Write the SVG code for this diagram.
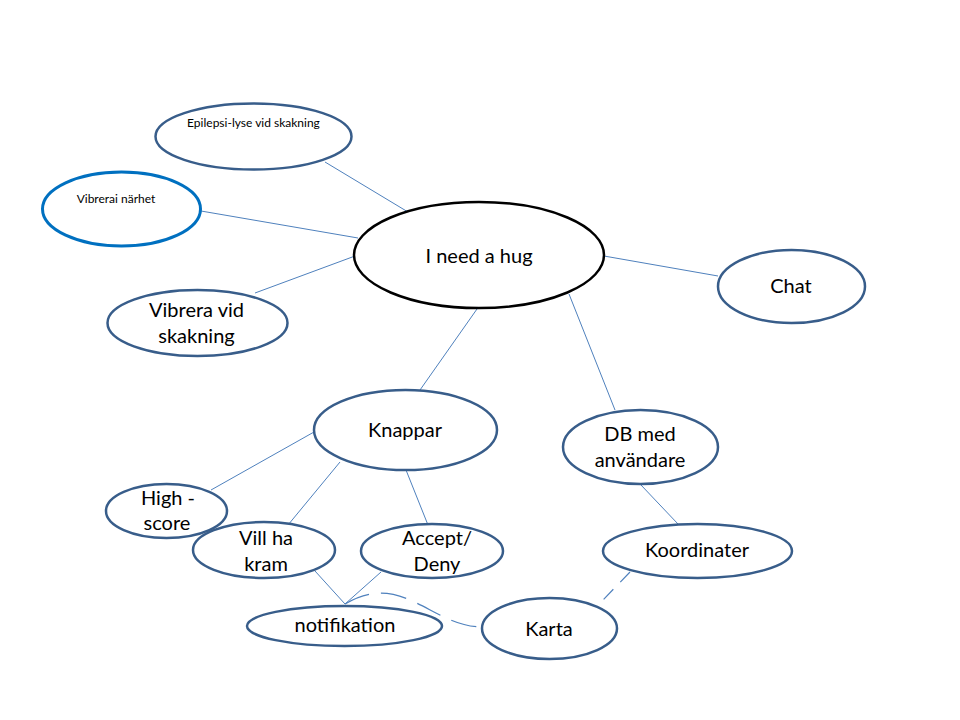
<svg xmlns="http://www.w3.org/2000/svg" width="960" height="720" viewBox="0 0 960 720">
<style>
  .node { fill: #ffffff; stroke: #385D8A; stroke-width: 2.5; }
  .hub { fill: #ffffff; stroke: #000000; stroke-width: 2.5; }
  .blue { fill: #ffffff; stroke: #0070C0; stroke-width: 3; }
  .t { font-family: Lato, "Open Sans", "Liberation Sans", sans-serif; font-size: 20px; fill: #000000; text-anchor: middle; }
  .s { font-family: Lato, "Open Sans", "Liberation Sans", sans-serif; font-size: 12px; fill: #000000; text-anchor: middle; }
  .c { fill: none; stroke: #4F81BD; stroke-width: 1; }
  .d { fill: none; stroke: #4F81BD; stroke-width: 1.2; stroke-dasharray: 26 12; }
  .d2 { fill: none; stroke: #4F81BD; stroke-width: 1.2; stroke-dasharray: 14 10; }
</style>
<rect width="960" height="720" fill="#ffffff"/>
<g id="connectors">
  <line class="c" x1="325" y1="162" x2="413" y2="215"/>
  <line class="c" x1="201" y1="211" x2="358" y2="238"/>
  <line class="c" x1="255" y1="293" x2="355" y2="256"/>
  <line class="c" x1="604" y1="256" x2="718" y2="276"/>
  <line class="c" x1="477" y1="309" x2="420" y2="390"/>
  <line class="c" x1="569" y1="294" x2="615" y2="410"/>
  <line class="c" x1="314" y1="432" x2="211" y2="490"/>
  <line class="c" x1="340" y1="462" x2="288" y2="525"/>
  <line class="c" x1="406" y1="470" x2="428" y2="525"/>
  <line class="c" x1="641" y1="485" x2="678" y2="524"/>
  <line class="c" x1="315" y1="571" x2="345" y2="604"/>
  <line class="c" x1="381" y1="572" x2="345" y2="604"/>
  <path class="d" d="M345,604 C365,592 385,589 410,600 S455,627 483,627"/>
  <line class="d2" x1="630" y1="572" x2="603" y2="600"/>
</g>
<g id="epilepsi">
  <ellipse class="node" cx="253.5" cy="136.5" rx="98" ry="33"/>
  <text class="s" x="253.5" y="127">Epilepsi-lyse vid skakning</text>
</g>
<g id="vibrerai">
  <ellipse class="blue" cx="121.5" cy="209" rx="79" ry="37"/>
  <text class="s" x="116" y="203">Vibrerai närhet</text>
</g>
<g id="vibrera-vid">
  <ellipse class="node" cx="197.5" cy="323" rx="90" ry="33"/>
  <text class="t" x="196.5" y="317">Vibrera vid</text>
  <text class="t" x="196.5" y="343">skakning</text>
</g>
<g id="hub">
  <ellipse class="hub" cx="479" cy="255" rx="125" ry="53"/>
  <text class="t" x="479" y="263">I need a hug</text>
</g>
<g id="chat">
  <ellipse class="node" cx="791.5" cy="286.5" rx="73.5" ry="36.5"/>
  <text class="t" x="791" y="293">Chat</text>
</g>
<g id="knappar">
  <ellipse class="node" cx="405.5" cy="430" rx="91.5" ry="40"/>
  <text class="t" x="405" y="437">Knappar</text>
</g>
<g id="db">
  <ellipse class="node" cx="640.5" cy="447" rx="77.5" ry="37"/>
  <text class="t" x="640" y="441">DB med</text>
  <text class="t" x="640" y="467">användare</text>
</g>
<g id="highscore">
  <ellipse class="node" cx="166.5" cy="511" rx="60.5" ry="27"/>
  <text class="t" x="168" y="505">High -</text>
  <text class="t" x="167" y="530">score</text>
</g>
<g id="villhakram">
  <ellipse class="node" cx="264" cy="550" rx="71" ry="28"/>
  <text class="t" x="266" y="545">Vill ha</text>
  <text class="t" x="266" y="571">kram</text>
</g>
<g id="acceptdeny">
  <ellipse class="node" cx="432" cy="551" rx="71" ry="27"/>
  <text class="t" x="437" y="545">Accept/</text>
  <text class="t" x="437" y="571">Deny</text>
</g>
<g id="koordinater">
  <ellipse class="node" cx="697.5" cy="551" rx="94.5" ry="27"/>
  <text class="t" x="697" y="557">Koordinater</text>
</g>
<g id="notifikation">
  <ellipse class="node" cx="344.5" cy="626" rx="97.5" ry="20"/>
  <text class="t" x="345" y="632">notifikation</text>
</g>
<g id="karta">
  <ellipse class="node" cx="549.5" cy="628.5" rx="67.5" ry="30.5"/>
  <text class="t" x="549" y="636">Karta</text>
</g>
</svg>
